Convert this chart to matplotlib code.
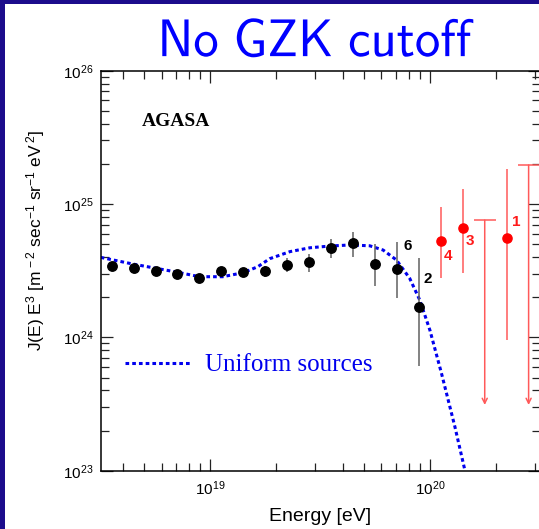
import numpy as np
import matplotlib
matplotlib.use('Agg')
import matplotlib.pyplot as plt
from matplotlib.textpath import TextPath
from matplotlib.patches import PathPatch, Rectangle
from matplotlib.font_manager import FontProperties
from matplotlib.transforms import Affine2D
from matplotlib.ticker import LogLocator, NullFormatter

plt.rcParams['font.family'] = ['Liberation Sans', 'DejaVu Sans']
plt.rcParams['mathtext.fontset'] = 'custom'
plt.rcParams['mathtext.rm'] = 'Liberation Sans'
plt.rcParams['mathtext.it'] = 'Liberation Sans:italic'
plt.rcParams['mathtext.bf'] = 'Liberation Sans:bold'

# AGASA spectrum (log10 E [eV], log10 J(E)E^3)
log_energy = [18.55, 18.65, 18.75, 18.85, 18.95, 19.05, 19.15, 19.25,
              19.35, 19.45, 19.55, 19.65, 19.75, 19.85, 19.95]
log_flux = [24.533, 24.522, 24.495, 24.477, 24.447, 24.500, 24.488, 24.495,
            24.543, 24.565, 24.672, 24.705, 24.548, 24.515, 24.230]
log_flux_hi = [24.550, 24.540, 24.515, 24.495, 24.465, 24.520, 24.510, 24.534,
               24.595, 24.625, 24.737, 24.788, 24.698, 24.713, 24.593]
log_flux_lo = [24.515, 24.505, 24.475, 24.460, 24.430, 24.480, 24.470, 24.455,
               24.492, 24.492, 24.593, 24.603, 24.387, 24.293, 23.785]
event_counts = {'6': 13, '2': 14}

# highest energy bins (red)
red_log_energy = [20.05, 20.15, 20.35]
red_log_flux = [24.725, 24.820, 24.745]
red_log_hi = [24.975, 25.113, 25.263]
red_log_lo = [24.445, 24.483, 23.980]
red_counts = ['4', '3', '1']

# upper limits
ul_log_energy = [20.25, 20.45]
ul_log_flux = [24.880, 25.293]
ul_log_end = [23.493, 23.493]

# uniform sources model
model_log_e = [18.50, 18.647, 18.746, 18.845, 18.951, 19.056, 19.149, 19.216,
               19.27, 19.362, 19.453, 19.544, 19.635, 19.726, 19.787, 19.848,
               19.908, 19.954, 20.0, 20.053, 20.114, 20.16]
model_log_j = [24.60, 24.55, 24.52, 24.49, 24.455, 24.455, 24.485, 24.53,
               24.59, 24.643, 24.672, 24.685, 24.693, 24.687, 24.655, 24.58,
               24.443, 24.28, 24.055, 23.73, 23.33, 23.0]

E = 10 ** np.array(log_energy)
J = 10 ** np.array(log_flux)
J_hi = 10 ** np.array(log_flux_hi)
J_lo = 10 ** np.array(log_flux_lo)

fig = plt.figure(figsize=(5.39, 5.29), dpi=100)
fig.patch.set_facecolor('white')
navy = '#1c0c8c'
fig.add_artist(Rectangle((0, 0), 5 / 539, 1, transform=fig.transFigure, color=navy, lw=0))
fig.add_artist(Rectangle((0, 1 - 4 / 529), 1, 4 / 529, transform=fig.transFigure, color=navy, lw=0))

ax = fig.add_axes([0.1868, 0.1102, 0.8143, 0.7561])
ax.set_xscale('log')
ax.set_yscale('log')
ax.set_xlim(10 ** 18.5, 10 ** 20.5)
ax.set_ylim(1e23, 1e26)

blue = '#0000ee'
ax.plot(10 ** np.array(model_log_e), 10 ** np.array(model_log_j), color=blue, lw=2.2,
        dashes=(1.2, 1.0), label='Uniform sources', zorder=2)

ax.errorbar(E, J, yerr=[J - J_lo, J_hi - J], fmt='o', color='black', ms=6.8,
            ecolor='#606060', elinewidth=1.1, capsize=0, zorder=3)

Er = 10 ** np.array(red_log_energy)
Jr = 10 ** np.array(red_log_flux)
ax.errorbar(Er, Jr, yerr=[Jr - 10 ** np.array(red_log_lo), 10 ** np.array(red_log_hi) - Jr],
            fmt='o', color='#ff0000', ms=6.6, ecolor='#ff5a5a', elinewidth=1.1,
            capsize=0, zorder=3)

for le, lf, lend in zip(ul_log_energy, ul_log_flux, ul_log_end):
    e = 10 ** le
    ax.hlines(10 ** lf, 10 ** (le - 0.05), 10 ** (le + 0.05), color='#ff5a5a', lw=1.1)
    ax.annotate('', xy=(e, 10 ** lend), xytext=(e, 10 ** lf),
                arrowprops=dict(arrowstyle='->', color='#ff5a5a', lw=1.1,
                                mutation_scale=9, shrinkA=0, shrinkB=0))

# event counts
for txt, idx in event_counts.items():
    off = {'6': (7.4, 16.1), '2': (6.7, 19.9)}[txt]
    ax.annotate(txt, xy=(E[idx], J[idx]), xytext=off, textcoords='offset points',
                ha='center', va='center', fontsize=11, fontweight='bold', color='black')
red_off = [(5.3, -11.0), (4.8, -9.1), (7.2, 11.5)]
for txt, e, j, off in zip(red_counts, Er, Jr, red_off):
    ax.annotate(txt, xy=(e, j), xytext=off, textcoords='offset points',
                ha='center', va='center', fontsize=11, fontweight='bold', color='#ff1a1a')

ax.text(0.0934, 0.874, 'AGASA', transform=ax.transAxes, ha='left', va='center',
        fontsize=14, fontweight='bold', family='Liberation Serif')

leg = ax.legend(loc='center left', bbox_to_anchor=(0.0554, 0.264), frameon=False,
                borderpad=0, borderaxespad=0, handlelength=2.6, handletextpad=0.6,
                prop=FontProperties(family='Liberation Serif', size=18))
for t in leg.get_texts():
    t.set_color(blue)

ax.xaxis.set_minor_locator(LogLocator(base=10, subs=np.arange(2, 10)))
ax.yaxis.set_minor_locator(LogLocator(base=10, subs=np.arange(2, 10)))
ax.xaxis.set_minor_formatter(NullFormatter())
ax.yaxis.set_minor_formatter(NullFormatter())
ax.tick_params(which='both', direction='in', top=True, right=True, width=0.9, color='#222222')
ax.tick_params(which='major', length=8.6, labelsize=11)
ax.tick_params(which='minor', length=5.8)
ax.tick_params(axis='x', pad=6.5)
ax.tick_params(axis='y', pad=5)
for s in ax.spines.values():
    s.set_linewidth(1.1)

ax.set_xlabel('Energy [eV]', fontsize=14)
ax.xaxis.set_label_coords(0.5, -0.092)
fig.text(0.0668, 0.5448, r'J(E) E$^{3}$ [m$^{\,-2}$ sec$^{-1}$ sr$^{-1}$ eV$^{\,2}$]',
         rotation=90, ha='center', va='center', fontsize=12.5)

# title as a path so it can be fitted to the box
tp = TextPath((0, 0), r'$\mathsf{No\ GZK\ cutoff}$', size=50,
              prop=FontProperties(math_fontfamily='cm'))
bb = tp.get_extents()
tr = (Affine2D().translate(-bb.x0, -bb.y0)
      .scale(311 / bb.width, 39 / bb.height).translate(162.3, 529 - 57.3))
fig.add_artist(PathPatch(tp, transform=tr, facecolor='#0000ff', lw=0))

fig.savefig('out.png', dpi=100)
